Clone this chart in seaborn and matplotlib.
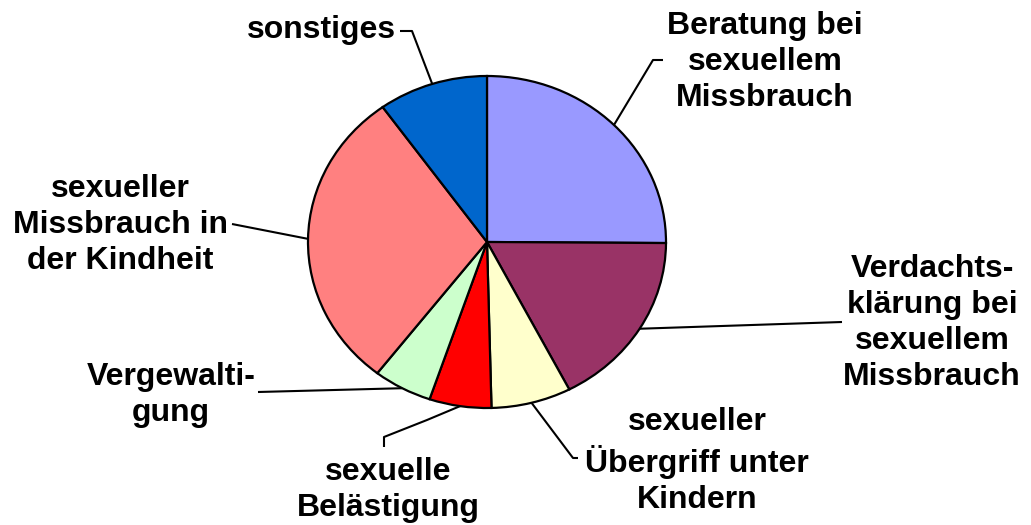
import numpy as np
import matplotlib
matplotlib.use("Agg")
import matplotlib.pyplot as plt
import seaborn as sns

# Data (percent shares), clockwise from 12 o'clock
categories = [
    "Beratung bei\nsexuellem\nMissbrauch",
    "Verdachts-\nklärung bei\nsexuellem\nMissbrauch",
    "sexueller\nÜbergriff unter\nKindern",
    "sexuelle\nBelästigung",
    "Vergewalti-\ngung",
    "sexueller\nMissbrauch in\nder Kindheit",
    "sonstiges",
]
values = [25.1, 17.3, 7.2, 5.6, 5.3, 29.6, 9.9]
colors = ["#9999FF", "#993366", "#FFFFCC", "#FF0000", "#CCFFCC", "#FF8080", "#0066CC"]

sns.set_theme(style="white")
plt.rcParams['font.family'] = ['Liberation Sans', 'DejaVu Sans']

W, H = 1031, 525
fig = plt.figure(figsize=(W / 100, H / 100), dpi=100)
fig.patch.set_facecolor("white")

# pie box in pixels (elliptical pie)
cx, cy, rx, ry = 487, 242, 179, 166
ax = fig.add_axes([(cx - rx) / W, (H - cy - ry) / H, 2 * rx / W, 2 * ry / H])

wedges, _ = ax.pie(values, colors=sns.color_palette(colors), startangle=90,
                   counterclock=False,
                   wedgeprops=dict(edgecolor="black", linewidth=1.6))
ax.set_aspect("auto")
ax.set_xlim(-1, 1)
ax.set_ylim(-1, 1)
ax.axis("off")


def px(x, y):
    return ((x - cx) / rx, (cy - y) / ry)


# label layout: text centre (px), leader bend points (px) from text side
label_pos = [
    (765, 62, "center", [(663, 60), (653, 60)]),
    (932, 323, "center", [(842, 322)]),
    (697, 461, "center", [(578, 458), (573, 458)]),
    (388, 490, "center", [(384, 447), (384, 437), (427, 420)]),
    (171, 395, "center", [(258, 392)]),
    (120, 225, "center", [(232, 224)]),
    (321, 30, "center", [(400, 31), (412, 31)]),
]

for w, lab, (tx, ty, ha, pts) in zip(wedges, categories, label_pos):
    mid = np.deg2rad((w.theta1 + w.theta2) / 2)
    ex, ey = np.cos(mid), np.sin(mid)
    xs = [px(*p)[0] for p in pts] + [ex]
    ys = [px(*p)[1] for p in pts] + [ey]
    ax.plot(xs, ys, color="black", lw=1.5, clip_on=False, solid_capstyle="butt")
    x, y = px(tx, ty)
    ax.text(x, y, lab, ha=ha, va="center", fontsize=23, fontweight="bold",
            color="black", linespacing=1.26, clip_on=False)

fig.savefig("out.png", dpi=100, facecolor="white")
